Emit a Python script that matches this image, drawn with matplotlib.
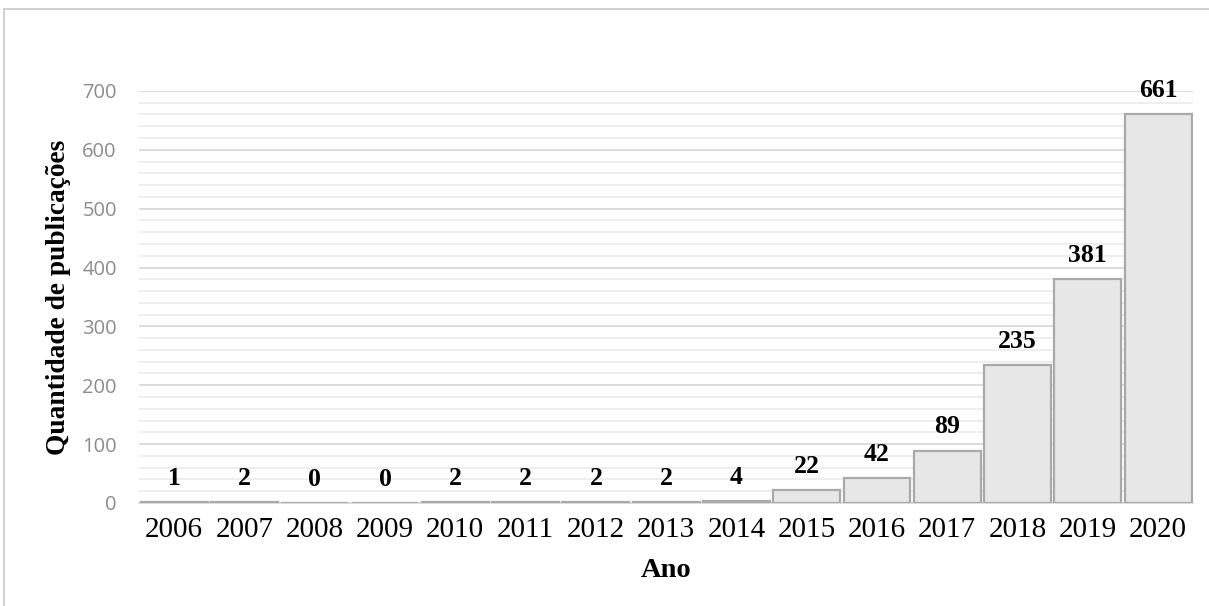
import matplotlib.pyplot as plt
from matplotlib.patches import Rectangle
from matplotlib.ticker import MultipleLocator

anos = ['2006', '2007', '2008', '2009', '2010', '2011', '2012', '2013',
        '2014', '2015', '2016', '2017', '2018', '2019', '2020']
publicacoes = [1, 2, 0, 0, 2, 2, 2, 2, 4, 22, 42, 89, 235, 381, 661]

fig = plt.figure(figsize=(12.09, 6.06), dpi=100)
ax = fig.add_axes([0.115, 0.170, 0.872, 0.680])

# moldura cinza do grafico (estilo Excel)
fig.patches.append(Rectangle((0.003, -0.01), 1.2, 0.995, transform=fig.transFigure,
                             fill=False, edgecolor='#c8c8c8', linewidth=1.2))

x = range(len(anos))
bars = ax.bar(x, publicacoes, width=0.95, color='#e7e7e7', edgecolor='#a9a9a9',
              linewidth=1.6, zorder=3)

for xi, v in zip(x, publicacoes):
    ax.annotate(str(v), (xi, v), xytext=(0, 17), textcoords='offset points',
                ha='center', va='center', fontsize=18.5, fontweight='bold',
                family='Liberation Serif', zorder=4)

ax.set_xlim(-0.5, len(anos) - 0.5)
ax.set_ylim(0, 700)
ax.yaxis.set_major_locator(MultipleLocator(100))
ax.yaxis.set_minor_locator(MultipleLocator(20))
ax.grid(axis='y', which='major', color='#d9d9d9', linewidth=1.3, zorder=0)
ax.grid(axis='y', which='minor', color='#ededed', linewidth=1.3, zorder=0)

for s in ['top', 'right', 'left']:
    ax.spines[s].set_visible(False)
ax.spines['bottom'].set_color('#d9d9d9')
ax.spines['bottom'].set_linewidth(1.3)

ax.set_xticks(list(x))
ax.set_xticklabels(anos, family='Liberation Serif', fontsize=21)
ax.tick_params(axis='x', length=0, pad=10)
ax.tick_params(axis='y', which='both', length=0, pad=16, labelsize=14.5, labelcolor='#8c8c8c')
for t in ax.get_yticklabels():
    t.set_family('Open Sans')

ax.set_ylabel('Quantidade de publicações', family='Liberation Serif', fontsize=19.7,
              fontweight='bold')
ax.yaxis.set_label_coords(-0.065, 0.5)
ax.set_xlabel('Ano', family='Liberation Serif', fontsize=20.5, fontweight='bold')
ax.xaxis.set_label_coords(0.5, -0.133)

fig.savefig('out.png', dpi=100)
